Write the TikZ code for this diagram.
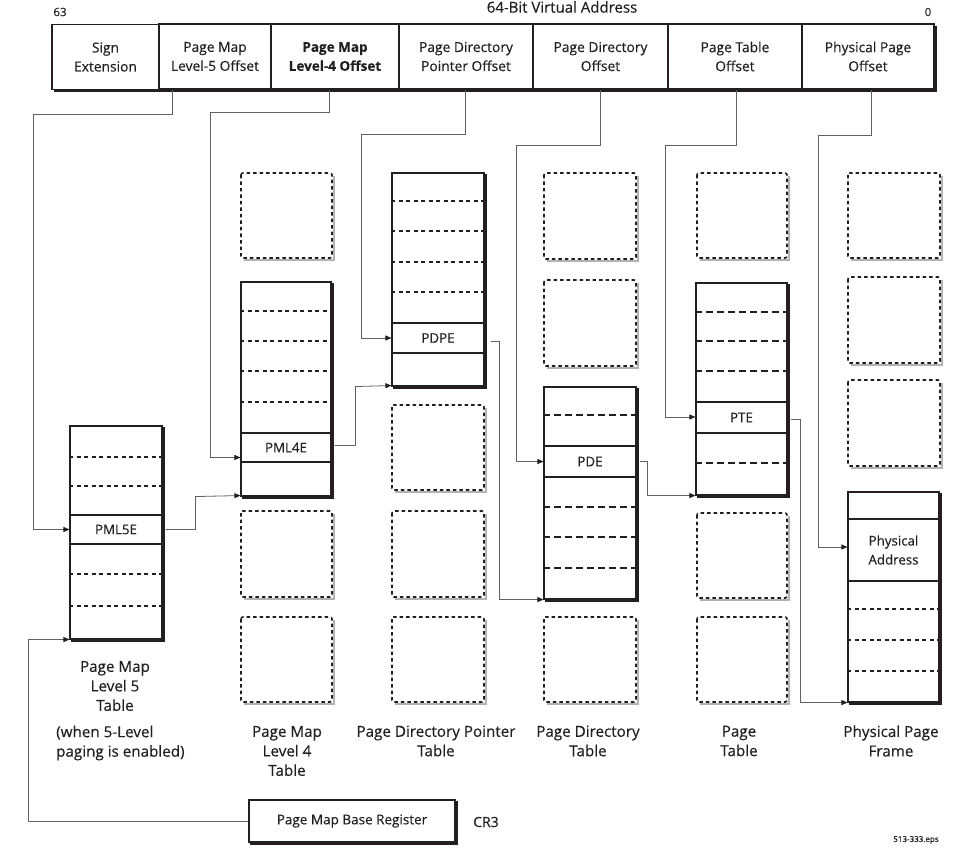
\documentclass[tikz,border=0pt]{standalone}
\usepackage{fontspec}
\setmainfont{Open Sans}[FakeBold=0.3]
\usetikzlibrary{arrows.meta}
\definecolor{ink}{HTML}{231F20}
\newcommand\tshadow[1]{\draw[shad] ([xshift=1.3pt,yshift=-2pt]#1.north east) -- ([xshift=1.3pt,yshift=-1.3pt]#1.south east) -- ([xshift=2pt,yshift=-1.3pt]#1.south west);}
\newcommand\hrow[2]{\draw[rowline] (#1.west |- 0,#2) -- (#1.east |- 0,#2);}
\newcommand\hrowl[2]{\draw[rowlong] (#1.west |- 0,#2) -- (#1.east |- 0,#2);}
\newcommand\dbx[4]{\draw[gshad] (#3+1.9,#2+3) -- (#3+1.9,#4+1.9) -- (#1+3,#4+1.9); \draw[dbox] (#1,#2) rectangle (#3,#4);}
\begin{document}
\begin{tikzpicture}[x=1pt,y=-1pt, every node/.style={text=ink},
  hcell/.style={draw=ink, line width=1.2pt, inner sep=0pt, minimum height=65pt, align=center, font=\fontsize{13.8}{19}\selectfont},
  tbl/.style={draw=ink, line width=1.1pt, inner sep=0pt},
  entry/.style={draw=ink, line width=1.1pt, inner sep=0pt, align=center, font=\fontsize{13.3}{19}\selectfont},
  rowline/.style={draw=ink, dash pattern=on 4pt off 3.5pt, line width=1.3pt},
  rowlong/.style={draw=ink, dash pattern=on 7pt off 4pt, line width=1.3pt},
  dbox/.style={draw=ink, dash pattern=on 3.5pt off 3pt, line width=1.6pt, rounded corners=2pt},
  shad/.style={draw=ink, line width=2.6pt},
  gshad/.style={line width=1.4pt, black!30},
  conn/.style={draw=black!62, line width=0.8pt, -{Triangle[length=6pt,width=5pt,color=ink]}},
  lab/.style={font=\fontsize{15.2}{19.5}\selectfont, align=center, inner sep=0pt},
  small/.style={inner sep=0pt}
]
\useasboundingbox (0,0) rectangle (954,848);

% top captions
\node[small, font=\fontsize{11.5}{13}\selectfont] (b63) at (60,12) {63};
\node[small, font=\fontsize{11.5}{13}\selectfont] (b0) at (928,12) {0};
\node[small, font=\fontsize{15}{17}\selectfont] (va) at (562,7) {64-Bit Virtual Address};

% header
\draw[shad] (935.3,26) -- (935.3,90.3) -- (54,90.3);
\node[hcell, minimum width=107pt] (h1) at (105.5,57) {Sign\\Extension};
\node[hcell, minimum width=112pt] (h2) at (215,56.5) {Page Map\\Level-5 Offset};
\node[hcell, minimum width=128pt, font=\fontsize{13.5}{19}\selectfont\bfseries] (h3) at (335,56.5) {Page Map\\Level-4 Offset};
\node[hcell, minimum width=134pt] (h4) at (466,56.5) {Page Directory\\Pointer Offset};
\node[hcell, minimum width=135pt] (h5) at (600.5,56.5) {Page Directory\\Offset};
\node[hcell, minimum width=134pt] (h6) at (735,56.5) {Page Table\\Offset};
\node[hcell, minimum width=132pt] (h7) at (868,56.5) {Physical Page\\Offset};

% dotted empty tables
\dbx{241}{173}{332}{258}
\dbx{241}{511}{332}{597}
\dbx{241}{617}{332}{702}
\dbx{392}{405}{484}{490}
\dbx{392}{511}{484}{597}
\dbx{392}{617}{484}{702}
\dbx{544}{173}{636}{259}
\dbx{544}{280}{636}{366}
\dbx{544}{617}{636}{702}
\dbx{697}{173}{787}{258}
\dbx{697}{513}{787}{598}
\dbx{697}{617}{787}{702}
\dbx{848}{173}{940}{258}
\dbx{848}{277}{940}{363}
\dbx{848}{380}{940}{466}

% Page Map Level 5 table
\node[tbl, minimum width=92pt, minimum height=213pt] (t5) at (116,532.5) {};
\tshadow{t5}
\hrow{t5}{457}\hrow{t5}{486}\hrow{t5}{574}\hrow{t5}{606}
\node[entry, minimum width=92pt, minimum height=29pt] (e5) at (116,529.5) {PML5E};

% Page Map Level 4 table
\node[tbl, minimum width=90pt, minimum height=214pt] (t4) at (286,389) {};
\tshadow{t4}
\hrow{t4}{311}\hrow{t4}{341}\hrow{t4}{371}\hrow{t4}{402}
\node[entry, minimum width=90pt, minimum height=29pt] (e4) at (286,447.5) {PML4E};

% Page Directory Pointer table
\node[tbl, minimum width=92pt, minimum height=213pt] (tp) at (438,279.5) {};
\tshadow{tp}
\hrow{tp}{201}\hrow{tp}{231}\hrow{tp}{262}\hrow{tp}{292}
\node[entry, minimum width=92pt, minimum height=30pt] (ep) at (438,338) {PDPE};

% Page Directory table
\node[tbl, minimum width=92pt, minimum height=212pt] (td) at (590,493) {};
\tshadow{td}
\hrowl{td}{415}\hrowl{td}{507}\hrowl{td}{537}\hrowl{td}{568}
\node[entry, minimum width=92pt, minimum height=31pt] (ed) at (590,461.5) {PDE};

% Page table
\node[tbl, minimum width=91pt, minimum height=212pt] (tt) at (741.5,389) {};
\tshadow{tt}
\hrowl{tt}{312}\hrowl{tt}{341}\hrowl{tt}{371}\hrowl{tt}{463}
\node[entry, minimum width=91pt, minimum height=31pt] (et) at (741.5,417.5) {PTE};

% Physical page frame
\node[tbl, minimum width=91pt, minimum height=210pt] (tf) at (893.5,597) {};
\tshadow{tf}
\hrow{tf}{609}\hrow{tf}{640}\hrow{tf}{671}
\node[entry, minimum width=91pt, minimum height=62pt] (ef) at (893.5,550) {Physical\\Address};

% CR3
\node[draw=ink, line width=1.2pt, minimum width=206pt, minimum height=42pt, font=\fontsize{13.5}{15}\selectfont] (cr3) at (352,821) {Page Map Base Register};
\tshadow{cr3}
\node[small, font=\fontsize{14}{16}\selectfont] (cr3l) at (486,822) {CR3};

% connectors from virtual address fields
\draw[conn] ([xshift=-43pt]h2.south) |- (33,114) |- (e5.west);
\draw[conn] ([xshift=-6pt]h3.south) |- (210,112) |- ([yshift=-10pt]e4.west);
\draw[conn] ([xshift=-1pt]h4.south) |- (361,134) |- (ep.west);
\draw[conn] ([xshift=-0.5pt]h5.south) |- (516,145) |- (ed.west);
\draw[conn] ([xshift=1pt]h6.south) |- (665,145) |- ([yshift=0.5pt]et.west);
\draw[conn] ([xshift=3pt]h7.south) |- (818,135) |- ([yshift=3pt]ef.west);

% connectors from entries to next tables
\draw[conn] (cr3.west) -| ([xshift=-41pt]t5.south west) -- (t5.south west);
\draw[conn] ([xshift=3pt]e5.east) -| ([xshift=-45pt]t4.south west) -- ([yshift=1pt]t4.south west);
\draw[conn] ([xshift=3pt,yshift=2pt]e4.east) -| ([xshift=-36pt]tp.south west) -- ([yshift=1pt]tp.south west);
\draw[conn] ([xshift=6pt,yshift=-3pt]ep.east) -| ([xshift=-44pt]td.south west) -- (td.south west);
\draw[conn] ([xshift=3pt]ed.east) -| ([xshift=-48pt]tt.south west) -- (tt.south west);
\draw[conn] ([xshift=3pt,yshift=-1.5pt]et.east) -| ([xshift=-47pt]tf.south west) -- (tf.south west);

% labels
\node[lab] (l5) at (115,686) {Page Map\\Level 5\\Table};
\node[lab, align=left, anchor=west] (l5n) at (56,743) {(when 5-Level\\paging is enabled)};
\node[lab] (l4) at (287,751) {Page Map\\Level 4\\Table};
\node[lab] (lp) at (436,741) {Page Directory Pointer\\Table};
\node[lab] (ld) at (588,741) {Page Directory\\Table};
\node[lab] (lt) at (739,741) {Page\\Table};
\node[lab] (lf) at (891,741) {Physical Page\\Frame};
\node[small, font=\fontsize{8}{9}\selectfont] (eps) at (916,840) {513-333.eps};
\end{tikzpicture}
\end{document}
